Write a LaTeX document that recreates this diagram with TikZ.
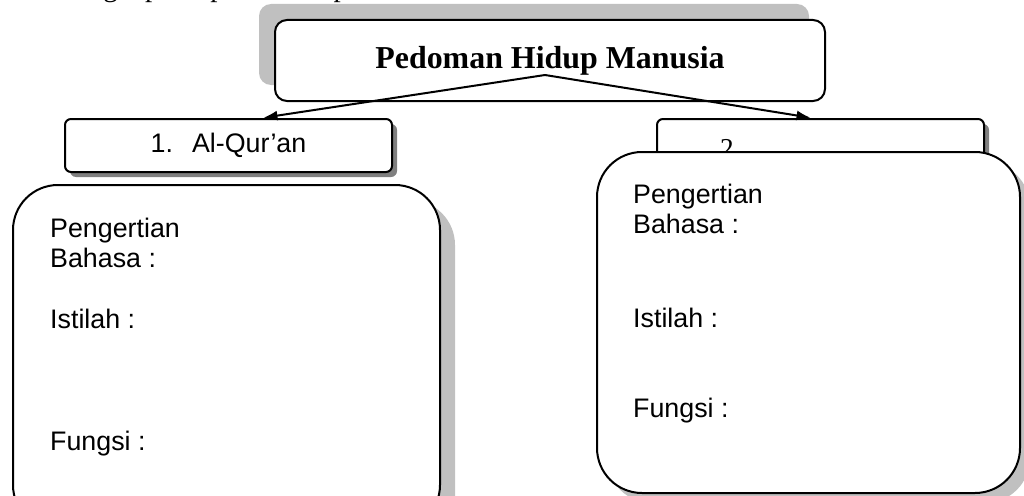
\documentclass[tikz,border=0pt]{standalone}
\usepackage{fontspec}
\setmainfont{Liberation Serif}
\newfontfamily\arialfont{Liberation Sans}
\usetikzlibrary{arrows.meta,shadows}
\definecolor{bayang}{HTML}{C0C0C0}
\definecolor{bayanggelap}{HTML}{808080}
\newcommand{\isiteks}{\arialfont\fontsize{26.8}{30}\selectfont}
\tikzset{
  kecil/.style={draw=black,line width=2pt,fill=white,rounded corners=6pt,
    minimum width=327pt,minimum height=53pt,font=\isiteks,
    general shadow={fill=bayanggelap,shadow xshift=5pt,shadow yshift=-5pt}},
  besar/.style={draw=black,line width=2pt,fill=white,rounded corners=45pt,
    general shadow={fill=bayang,shadow xshift=#1,shadow yshift=-#1}},
  teks/.style={anchor=base west,inner sep=0pt,font=\isiteks}
}

\begin{document}
\begin{tikzpicture}[x=1pt,y=-1pt,>={Latex[length=14pt,width=10pt]}]
\useasboundingbox (0,0) rectangle (1024,495);
\clip (0,0) rectangle (1024,495);
% \draw[help lines,step=50] (0,0) grid (1024,495);
\node (petunjuk) [anchor=base west,inner sep=0pt,font=\fontsize{29}{32}\selectfont] at (58,-3) {Lengkapilah peta konsep di bawah ini!};
%
\node (judul) [draw=black,line width=2pt,fill=white,rounded corners=12pt,minimum width=550pt,minimum height=81pt,
  general shadow={fill=bayang,shadow xshift=-16pt,shadow yshift=16pt},
  font=\bfseries\fontsize{31.9}{36}\selectfont] at (550,60.5) {Pedoman Hidup Manusia};
%
\node (alquran) [kecil] at (228.5,145.5) {1.\hspace{19pt}Al-Qur’an};
\node (kiri) [besar=15pt,minimum width=427pt,minimum height=345pt] at (226.5,357.5) {};
\node (k1) [teks] at (50,237) {Pengertian};
\node (k2) [teks] at (50,267) {Bahasa :};
\node (k3) [teks] at (50,328) {Istilah :};
\node (k4) [teks] at (50,450) {Fungsi :};
%
\node (sunnah) [kecil] at (820.5,145.5) {};
\node (nomor2) [anchor=base west,inner sep=0pt,font=\fontsize{27.3}{30}\selectfont] at (720,157) {2.};
\node (kanan) [besar=10pt,minimum width=423pt,minimum height=341pt] at (808.5,322.5) {};
\node (n1) [teks] at (633,203) {Pengertian};
\node (n2) [teks] at (633,233) {Bahasa :};
\node (n3) [teks] at (633,327) {Istilah :};
\node (n4) [teks] at (633,417) {Fungsi :};
%
\coordinate (pangkal) at (545,75);
\path[->,line width=2pt,shorten >=2pt] (pangkal) edge ([xshift=33pt]alquran.north);
\path[->,line width=2pt,shorten >=2pt] (pangkal) edge ([xshift=-8pt]sunnah.north);
%
\end{tikzpicture}
\end{document}
